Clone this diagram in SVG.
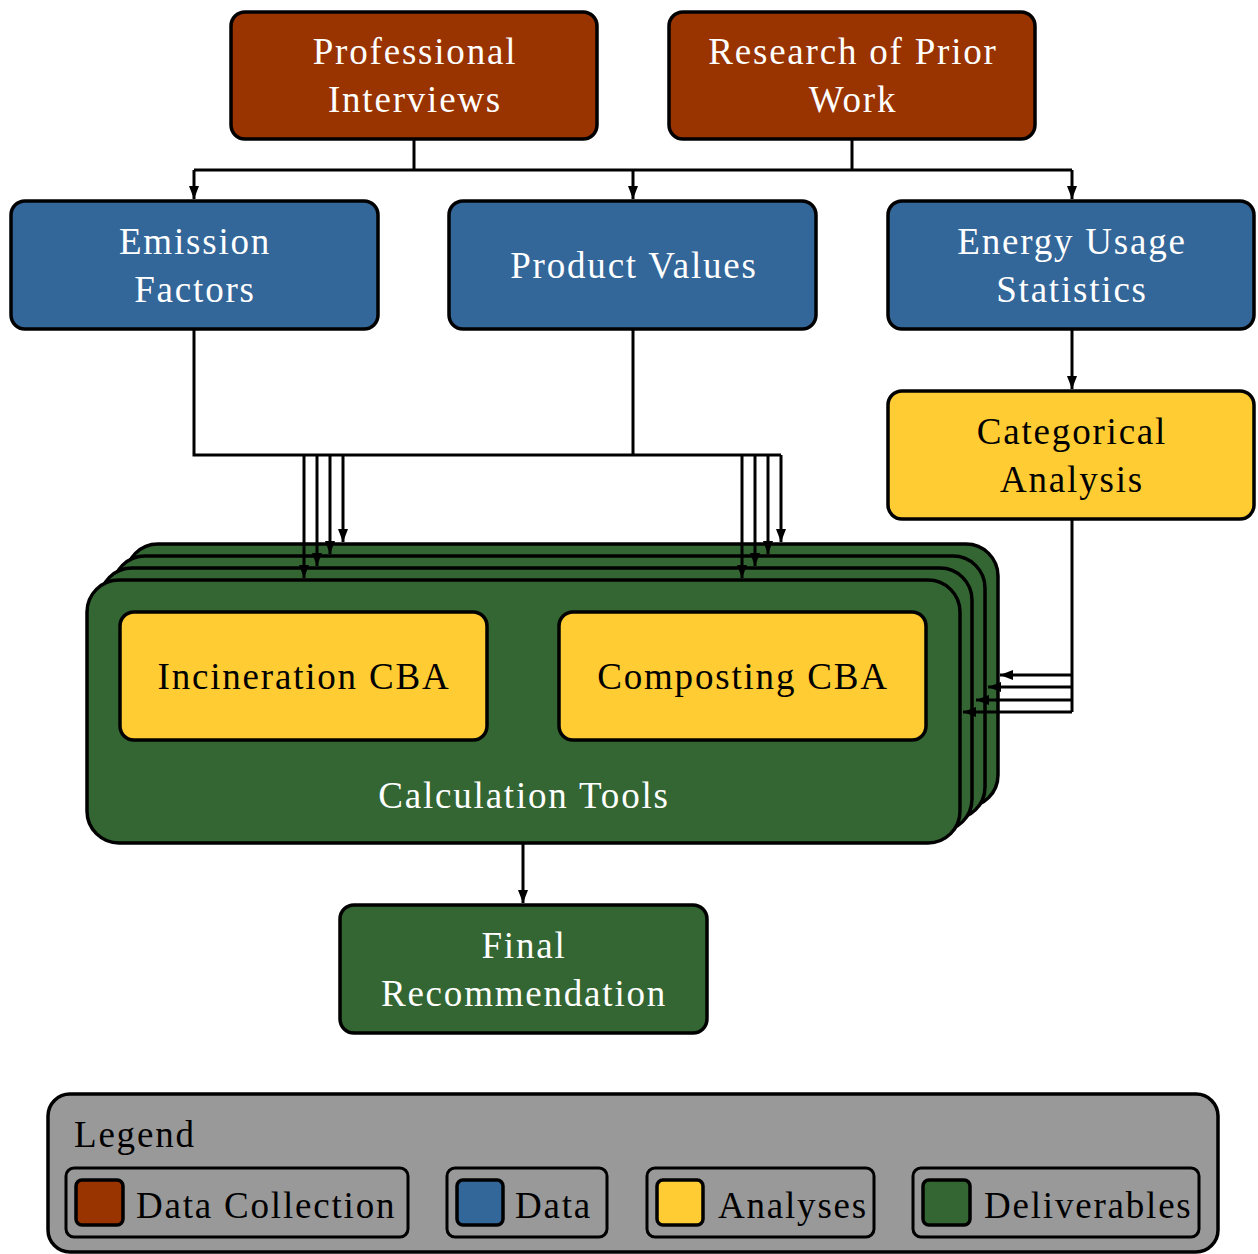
<svg xmlns="http://www.w3.org/2000/svg" width="1258" height="1254" viewBox="0 0 1258 1254">
<defs>
<marker id="ah" markerWidth="13" markerHeight="10" refX="13" refY="5" orient="auto" markerUnits="userSpaceOnUse">
<path d="M0,0 L13,5 L0,10 Z" fill="#000"/>
</marker>
<style>
.box{stroke:#000;stroke-width:3.5}
.dc{fill:#993300}
.da{fill:#336699}
.an{fill:#FFCC33}
.de{fill:#336633}
.t{font-family:"Liberation Serif",serif;font-size:37px;letter-spacing:1.8px;text-anchor:middle}
.w{fill:#fff}
.k{fill:#000}
.c{fill:none;stroke:#000;stroke-width:3}
.lt{font-family:"Liberation Serif",serif;font-size:37px;letter-spacing:1.8px;fill:#000}
</style>
</defs>
<rect width="1258" height="1254" fill="#fff"/>

<g id="node-professional-interviews">
<rect class="box dc" x="231" y="12" width="366" height="127" rx="14"/>
<text class="t w" x="415" y="64">Professional</text>
<text class="t w" x="415" y="112">Interviews</text>
</g>
<g id="node-research-prior-work">
<rect class="box dc" x="669" y="12" width="366" height="127" rx="14"/>
<text class="t w" x="853" y="64">Research of Prior</text>
<text class="t w" x="853" y="112">Work</text>
</g>
<g id="node-emission-factors">
<rect class="box da" x="11" y="201" width="367" height="128" rx="14"/>
<text class="t w" x="195" y="254">Emission</text>
<text class="t w" x="195" y="302">Factors</text>
</g>
<g id="node-product-values">
<rect class="box da" x="449" y="201" width="367" height="128" rx="14"/>
<text class="t w" x="634" y="278">Product Values</text>
</g>
<g id="node-energy-usage">
<rect class="box da" x="888" y="201" width="366" height="128" rx="14"/>
<text class="t w" x="1072" y="254">Energy Usage</text>
<text class="t w" x="1072" y="302">Statistics</text>
</g>
<g id="node-categorical-analysis">
<rect class="box an" x="888" y="391" width="366" height="128" rx="14"/>
<text class="t k" x="1072" y="444">Categorical</text>
<text class="t k" x="1072" y="492">Analysis</text>
</g>

<g id="node-calculation-tools">
<rect class="box de" x="126" y="544" width="872" height="263" rx="32"/>
<rect class="box de" x="113" y="556" width="872" height="263" rx="32"/>
<rect class="box de" x="100" y="568" width="872" height="263" rx="32"/>
<rect class="box de" x="87" y="580" width="873" height="263" rx="32"/>
<text class="t w" x="524" y="808">Calculation Tools</text>
</g>
<g id="node-incineration-cba">
<rect class="box an" x="120" y="612" width="367" height="128" rx="14"/>
<text class="t k" x="304" y="689">Incineration CBA</text>
</g>
<g id="node-composting-cba">
<rect class="box an" x="559" y="612" width="367" height="128" rx="14"/>
<text class="t k" x="743" y="689">Composting CBA</text>
</g>
<g id="node-final-recommendation">
<rect class="box de" x="340" y="905" width="367" height="128" rx="14"/>
<text class="t w" x="524" y="958">Final</text>
<text class="t w" x="524" y="1006">Recommendation</text>
</g>

<g id="connectors">
<path class="c" d="M414,139 V170"/>
<path class="c" d="M852,139 V170"/>
<path class="c" d="M194,170 H1072"/>
<path class="c" d="M194,170 V199" marker-end="url(#ah)"/>
<path class="c" d="M633,170 V199" marker-end="url(#ah)"/>
<path class="c" d="M1072,170 V199" marker-end="url(#ah)"/>
<path class="c" d="M194,329 V455 H781"/>
<path class="c" d="M633,329 V455"/>
<path class="c" d="M304,455 V578" marker-end="url(#ah)"/>
<path class="c" d="M317,455 V566" marker-end="url(#ah)"/>
<path class="c" d="M330,455 V554" marker-end="url(#ah)"/>
<path class="c" d="M343,455 V542" marker-end="url(#ah)"/>
<path class="c" d="M742,455 V578" marker-end="url(#ah)"/>
<path class="c" d="M755,455 V566" marker-end="url(#ah)"/>
<path class="c" d="M768,455 V554" marker-end="url(#ah)"/>
<path class="c" d="M781,455 V542" marker-end="url(#ah)"/>
<path class="c" d="M1072,329 V389" marker-end="url(#ah)"/>
<path class="c" d="M1072,519 V712"/>
<path class="c" d="M1072,675 H1000" marker-end="url(#ah)"/>
<path class="c" d="M1072,687 H988" marker-end="url(#ah)"/>
<path class="c" d="M1072,700 H976" marker-end="url(#ah)"/>
<path class="c" d="M1072,712 H963" marker-end="url(#ah)"/>
<path class="c" d="M523,843 V903" marker-end="url(#ah)"/>
</g>

<g id="legend">
<rect x="48" y="1094" width="1170" height="158" rx="22" fill="#999999" stroke="#000" stroke-width="3.5"/>
<text class="lt" x="74" y="1147">Legend</text>
<rect x="66" y="1168" width="342" height="69" rx="8" fill="none" stroke="#000" stroke-width="3"/>
<rect class="box dc" x="76" y="1180" width="47" height="45" rx="6"/>
<text class="lt" x="136" y="1218">Data Collection</text>
<rect x="447" y="1168" width="160" height="69" rx="8" fill="none" stroke="#000" stroke-width="3"/>
<rect class="box da" x="457" y="1180" width="46" height="45" rx="6"/>
<text class="lt" x="515" y="1218">Data</text>
<rect x="647" y="1168" width="227" height="69" rx="8" fill="none" stroke="#000" stroke-width="3"/>
<rect class="box an" x="657" y="1180" width="46" height="45" rx="6"/>
<text class="lt" x="718" y="1218">Analyses</text>
<rect x="913" y="1168" width="286" height="69" rx="8" fill="none" stroke="#000" stroke-width="3"/>
<rect class="box de" x="923" y="1180" width="47" height="45" rx="6"/>
<text class="lt" x="984" y="1218">Deliverables</text>
</g>
</svg>
